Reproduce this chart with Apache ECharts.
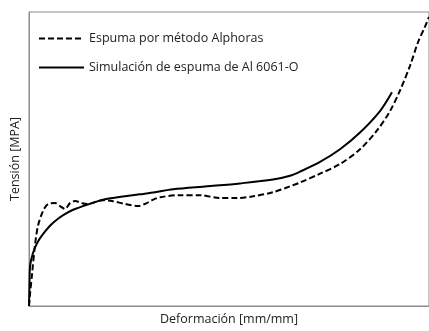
<!DOCTYPE html>
<html>
<head>
<meta charset="utf-8">
<script src="https://cdn.jsdelivr.net/npm/echarts@6/dist/echarts.min.js"></script>
<style>
html,body{margin:0;padding:0;background:#fff;}
#chart{width:429px;height:331px;}
</style>
</head>
<body>
<div id="chart"></div>
<script>
const seriesNames = ['Espuma por método Alphoras', 'Simulación de espuma de Al 6061-O'];
const xAxisTitle = 'Deformación [mm/mm]';
const yAxisTitle = 'Tensión [MPA]';

// [strain, stress] (normalized units)
const alphorasData = [
  [0,0],[0.0025,0.04],[0.0075,0.107],[0.015,0.207],[0.0225,0.273],[0.035,0.323],
  [0.0475,0.347],[0.065,0.35],[0.0775,0.34],[0.09,0.33],[0.1025,0.35],[0.115,0.357],
  [0.1325,0.35],[0.145,0.347],[0.1575,0.35],[0.1825,0.36],[0.2075,0.357],[0.24,0.347],
  [0.2725,0.34],[0.29,0.347],[0.3075,0.36],[0.3275,0.37],[0.3775,0.377],[0.4275,0.377],
  [0.4775,0.367],[0.52,0.367],[0.56,0.373],[0.61,0.387],[0.6525,0.407],[0.6775,0.42],
  [0.7275,0.45],[0.7775,0.483],[0.8275,0.533],[0.87,0.597],[0.9025,0.663],[0.9275,0.733],
  [0.9525,0.817],[0.9725,0.897],[0.99,0.95],[1.0,0.983]
];
const simulationData = [
  [0,0],[0.0013,0.073],[0.0025,0.133],[0.01,0.18],[0.02,0.213],[0.0325,0.24],
  [0.0525,0.273],[0.0725,0.297],[0.095,0.317],[0.115,0.33],[0.1575,0.35],[0.19,0.363],
  [0.24,0.373],[0.2775,0.38],[0.315,0.387],[0.36,0.397],[0.445,0.407],[0.5275,0.417],
  [0.61,0.43],[0.6525,0.443],[0.6775,0.457],[0.7275,0.49],[0.7775,0.533],[0.8275,0.59],
  [0.8775,0.663],[0.9075,0.727]
];

const chart = echarts.init(document.getElementById('chart'), null, {renderer:'canvas'});
const font = 'Open Sans';
const txtColor = '#222222';
chart.setOption({
  animation: false,
  backgroundColor: '#ffffff',
  textStyle: {fontFamily: font},
  grid: {left: 29, right: -3, top: 12, bottom: 19, show: true, borderColor: '#8c8c8c', borderWidth: 1},
  legend: {
    orient: 'vertical', left: 33, top: 27, itemWidth: 45, itemHeight: 14, itemGap: 16,
    itemStyle: {opacity: 0},
    textStyle: {fontFamily: font, fontSize: 12.5, color: txtColor},
    data: [seriesNames[0], seriesNames[1]]
  },
  xAxis: {
    type: 'value', min: 0, max: 1,
    name: xAxisTitle, nameLocation: 'middle', nameGap: 7,
    nameTextStyle: {fontFamily: font, fontSize: 12.5, color: txtColor},
    axisLine: {show: true, lineStyle: {color: '#8c8c8c', width: 1}},
    axisTick: {show: false}, axisLabel: {show: false}, splitLine: {show: false}
  },
  yAxis: {
    type: 'value', min: 0, max: 1,
    name: yAxisTitle, nameLocation: 'middle', nameGap: 7,
    nameTextStyle: {fontFamily: font, fontSize: 12.5, color: txtColor},
    axisLine: {show: true, lineStyle: {color: '#8c8c8c', width: 1}},
    axisTick: {show: false}, axisLabel: {show: false}, splitLine: {show: false}
  },
  series: [
    {
      name: seriesNames[0], type: 'line', data: alphorasData, smooth: 0.3,
      showSymbol: false, symbol: 'none', clip: true,
      lineStyle: {color: '#000', width: 2, type: [6, 3]},
      itemStyle: {color: '#000'}
    },
    {
      name: seriesNames[1], type: 'line', data: simulationData, smooth: 0.3,
      showSymbol: false, symbol: 'none', clip: true,
      lineStyle: {color: '#000', width: 2, type: 'solid'},
      itemStyle: {color: '#000'}
    }
  ]
});
</script>
</body>
</html>
